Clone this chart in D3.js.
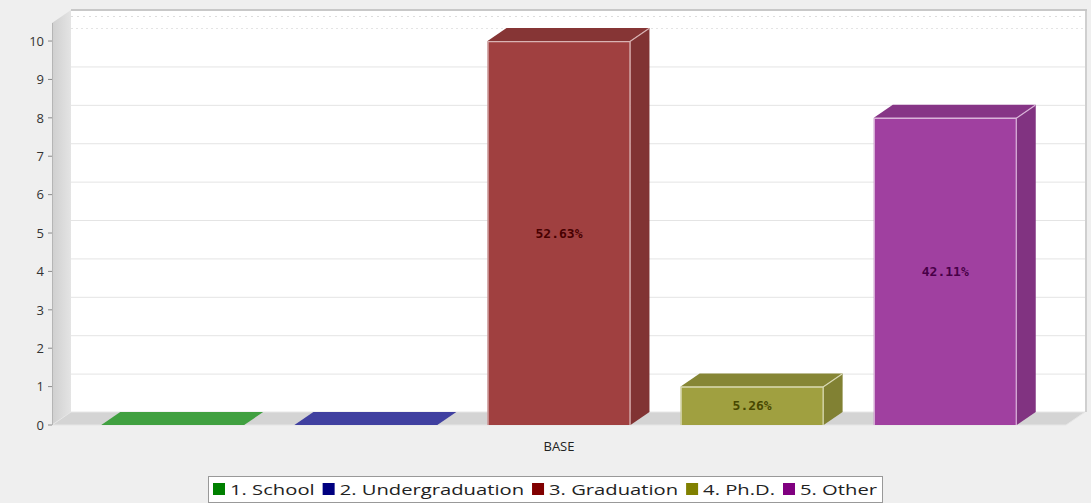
<!DOCTYPE html>
<html>
<head>
<meta charset="utf-8">
<script src="https://cdn.jsdelivr.net/npm/d3@7"></script>
<style>
  html, body { margin: 0; padding: 0; background: #efefef; }
  svg { display: block; }
</style>
</head>
<body>
<svg id="chart" width="1091" height="503"></svg>
<script>
// Education level breakdown for the BASE group
const categories = ["BASE"];
const series = ["1. School", "2. Undergraduation", "3. Graduation", "4. Ph.D.", "5. Other"];
const values = [0, 0, 10, 1, 8];
const percentLabels = ["", "", "52.63%", "5.26%", "42.11%"];
const baseColors = ["#008000", "#000080", "#800000", "#808000", "#800080"];
const yTicks = [0, 1, 2, 3, 4, 5, 6, 7, 8, 9, 10];

const svg = d3.select("#chart");

// 3D depth offset
const DX = 19, DY = -13;

// front plane geometry
const pLeft = 52, pRight = 1066, pBottom = 425, pTop = 23;

const y = d3.scaleLinear().domain([0, 10.47]).range([pBottom, pTop]);
const x0 = d3.scaleBand().domain(categories).range([pLeft, pRight]).padding(0);
const x1 = d3.scaleBand().domain(series).range([0, x0.bandwidth()])
  .paddingInner(0.26).paddingOuter(0.255);

// blend a colour with white at the given alpha
function faded(c, a) {
  const k = d3.rgb(c);
  return d3.rgb(k.r * a + 255 * (1 - a), k.g * a + 255 * (1 - a), k.b * a + 255 * (1 - a));
}

// back wall
svg.append("rect")
  .attr("x", pLeft + DX).attr("y", pTop + DY)
  .attr("width", pRight - pLeft).attr("height", pBottom - pTop)
  .attr("fill", "#ffffff");

// gridlines on the back wall
const grid = svg.append("g");
grid.selectAll("line").data(yTicks.filter(d => d > 0)).join("line")
  .attr("x1", pLeft + DX).attr("x2", pRight + DX)
  .attr("y1", d => y(d) + DY + 0.5).attr("y2", d => y(d) + DY + 0.5)
  .attr("stroke", "#e4e4e4").attr("stroke-width", 1)
  .attr("stroke-dasharray", d => d === 10 ? "2,3" : null);
grid.append("line")
  .attr("x1", pLeft + DX).attr("x2", pRight + DX)
  .attr("y1", pTop + DY + 6.5).attr("y2", pTop + DY + 6.5)
  .attr("stroke", "#dddddd").attr("stroke-dasharray", "2,4");

// wall borders
svg.append("line")
  .attr("x1", pLeft + DX).attr("x2", pRight + DX + 2)
  .attr("y1", pTop + DY).attr("y2", pTop + DY)
  .attr("stroke", "#c8c8c8").attr("stroke-width", 2);
svg.append("line")
  .attr("x1", pRight + DX + 1).attr("x2", pRight + DX + 1)
  .attr("y1", pTop + DY).attr("y2", pBottom + DY)
  .attr("stroke", "#c4c4c4").attr("stroke-width", 1.5);

// left wall
const wallGrad = svg.append("defs").append("linearGradient")
  .attr("id", "wallGrad").attr("x1", "0").attr("x2", "1").attr("y1", "0").attr("y2", "0");
wallGrad.append("stop").attr("offset", "0%").attr("stop-color", "#cfcfcf");
wallGrad.append("stop").attr("offset", "100%").attr("stop-color", "#e4e4e4");
svg.append("path")
  .attr("d", `M${pLeft},${pBottom} L${pLeft},${pTop} L${pLeft + DX},${pTop + DY} L${pLeft + DX},${pBottom + DY} Z`)
  .attr("fill", "url(#wallGrad)");

// floor
svg.append("path")
  .attr("d", `M${pLeft},${pBottom} L${pLeft + DX},${pBottom + DY} L${pRight + DX},${pBottom + DY} L${pRight},${pBottom} Z`)
  .attr("fill", "#d4d4d4").attr("stroke", "#e6e6e6").attr("stroke-width", 1);

// y axis
const yAxis = svg.append("g");
yAxis.append("line")
  .attr("x1", pLeft + 0.5).attr("x2", pLeft + 0.5)
  .attr("y1", pTop).attr("y2", pBottom)
  .attr("stroke", "#b5b5b5");
const tk = yAxis.selectAll("g.tick").data(yTicks).join("g").attr("class", "tick")
  .attr("transform", d => `translate(0,${y(d)})`);
tk.append("line").attr("x1", pLeft - 4).attr("x2", pLeft)
  .attr("stroke", "#8a8a8a");
tk.append("text")
  .attr("x", pLeft - 8).attr("dy", "0.36em")
  .attr("text-anchor", "end")
  .attr("font-family", "'Open Sans', sans-serif").attr("font-size", 13)
  .attr("fill", "#333")
  .text(d => d);

// bars
const data = series.map((s, i) => ({ s, v: values[i], label: percentLabels[i], c: baseColors[i] }));
const bars = svg.append("g");
categories.forEach(cat => {
  const g = bars.append("g").attr("transform", `translate(${x0(cat)},0)`);
  data.forEach(d => {
    const bx = x1(d.s), bw = x1.bandwidth();
    const yt = y(d.v), yb = y(0);
    const front = faded(d.c, 0.75);
    const topC = front.darker(0.5);
    const sideC = front.darker(0.6);
    const edge = d3.interpolateRgb(front, "#ffffff")(0.6);
    const b = g.append("g");
    if (d.v > 0) {
      b.append("path")
        .attr("d", `M${bx + bw},${yt} L${bx + bw + DX},${yt + DY} L${bx + bw + DX},${yb + DY} L${bx + bw},${yb} Z`)
        .attr("fill", sideC);
    }
    b.append("path")
      .attr("d", `M${bx},${yt} L${bx + DX},${yt + DY} L${bx + bw + DX},${yt + DY} L${bx + bw},${yt} Z`)
      .attr("fill", d.v > 0 ? topC : front);
    if (d.v > 0) {
      b.append("rect")
        .attr("x", bx).attr("y", yt).attr("width", bw).attr("height", yb - yt)
        .attr("fill", front);
      // light edges
      b.append("path")
        .attr("d", `M${bx + 0.5},${yb} L${bx + 0.5},${yt + 0.5} L${bx + bw - 0.5},${yt + 0.5} L${bx + bw - 0.5},${yb}` +
                   ` M${bx + bw - 0.5},${yt + 0.5} L${bx + bw + DX - 0.5},${yt + DY + 0.5}`)
        .attr("fill", "none").attr("stroke", edge).attr("stroke-width", 1.2);
      b.append("text")
        .attr("x", bx + bw / 2).attr("y", y(d.v / 2)).attr("dy", "0.35em")
        .attr("text-anchor", "middle")
        .attr("font-family", "'DejaVu Sans Mono', monospace").attr("font-weight", "bold")
        .attr("font-size", 13)
        .attr("fill", d3.rgb(d.c).darker(1.6))
        .text(d.label);
    }
  });
  // category label
  svg.append("text")
    .attr("x", x0(cat) + x0.bandwidth() / 2)
    .attr("y", 451)
    .attr("text-anchor", "middle")
    .attr("font-family", "'Open Sans', sans-serif").attr("font-size", 13)
    .attr("fill", "#222")
    .text(cat);
});

// legend
const legX = 208, legY = 476, legW = 674, legH = 26;
const leg = svg.append("g");
leg.append("rect")
  .attr("x", legX + 0.5).attr("y", legY + 0.5).attr("width", legW).attr("height", legH)
  .attr("fill", "#ffffff").attr("stroke", "#999").attr("stroke-width", 1);
const items = leg.selectAll("g.item").data(data).join("g").attr("class", "item");
items.append("rect").attr("width", 12).attr("height", 12).attr("y", -12)
  .attr("fill", d => d.c);
const swatch = 17;
const texts = items.append("text")
  .attr("x", swatch)
  .attr("font-family", "'Open Sans', sans-serif").attr("font-size", 14)
  .attr("fill", "#222")
  .text(d => d.s);
// lay items out across the box, widening the text evenly to fill it
const natural = texts.nodes().map(n => n.getComputedTextLength());
const pad = 5, gap = 8;
const avail = legW - 2 * pad - data.length * swatch - (data.length - 1) * gap;
const k = avail / d3.sum(natural);
let cx = legX + pad;
items.each(function (d, i) {
  d3.select(this).attr("transform", `translate(${cx},${legY + 19})`);
  d3.select(this).select("text")
    .attr("textLength", natural[i] * k).attr("lengthAdjust", "spacingAndGlyphs");
  cx += swatch + natural[i] * k + gap;
});
</script>
</body>
</html>
